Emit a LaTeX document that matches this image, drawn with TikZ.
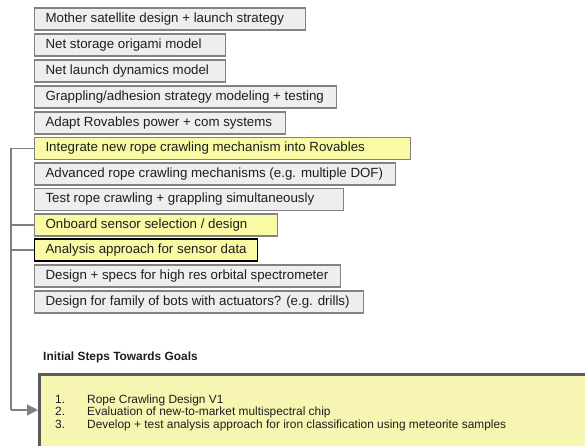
\documentclass[tikz,border=0pt]{standalone}
\usepackage{fontspec}
\setmainfont{Liberation Sans}
\usetikzlibrary{arrows.meta}
\definecolor{boxgray}{RGB}{238,238,238}
\definecolor{boxline}{RGB}{130,130,130}
\definecolor{hiyellow}{RGB}{250,250,165}
\definecolor{goalyellow}{RGB}{246,246,178}
\definecolor{goalline}{RGB}{90,90,90}
\definecolor{connline}{RGB}{128,128,128}
\definecolor{txt}{RGB}{30,30,30}
\begin{document}
\begin{tikzpicture}[x=1pt,y=-1pt,
  taskbox/.style={draw=boxline, fill=boxgray, line width=1.1pt, anchor=west,
    minimum height=22pt, inner xsep=0pt, inner ysep=0pt, text height=9.6pt, text depth=2.8pt,
    font=\fontsize{13.3}{15}\selectfont, text=txt},
  hibox/.style={taskbox, fill=hiyellow},
  conn/.style={draw=connline, line width=1.2pt},
  ]
\useasboundingbox (0,0) rectangle (585,445);
\clip (0,0) rectangle (585,445);
\newcommand{\taskrow}[5]{%
  \pgfmathsetmacro{\boxw}{#3-34}%
  \node[#1] (#2) at (34,#4) {\makebox[\boxw pt][l]{\hspace{11pt}#5}};}
\taskrow{taskbox}{b1}{305}{19}{Mother satellite design + launch strategy}
\taskrow{taskbox}{b2}{225}{45}{Net storage origami model}
\taskrow{taskbox}{b3}{225}{71}{Net launch dynamics model}
\taskrow{taskbox}{b4}{336}{97}{Grappling/adhesion strategy modeling + testing}
\taskrow{taskbox}{b5}{285}{123}{Adapt Rovables power + com systems}
\taskrow{hibox}{b6}{410}{148.5}{Integrate new rope crawling mechanism into Rovables}
\taskrow{taskbox}{b7}{395}{174}{Advanced rope crawling mechanisms (e.g. multiple DOF)}
\taskrow{taskbox}{b8}{343}{199.5}{Test rope crawling + grappling simultaneously}
\taskrow{hibox}{b9}{277}{225}{Onboard sensor selection / design}
\taskrow{hibox,draw=black}{b10}{257}{250}{Analysis approach for sensor data}
\taskrow{taskbox}{b11}{340}{276}{Design + specs for high res orbital spectrometer}
\taskrow{taskbox}{b12}{363}{302}{Design for family of bots with actuators? (e.g. drills)}

\node[anchor=base west, font=\fontsize{11.9}{14}\bfseries, text=txt, inner sep=0pt] (title) at (43,360) {Initial Steps Towards Goals};

\node[draw=goalline, fill=goalyellow, line width=2.6pt, anchor=north west,
  minimum width=580pt, minimum height=90pt, inner sep=0pt] (goal) at (38,373) {};
\node[anchor=north west, inner sep=0pt, font=\fontsize{11.9}{10.9}\selectfont, text=txt, align=left] (items) at (55,395)
  {\makebox[32pt][l]{1.}Rope Crawling Design V1\\
   \makebox[32pt][l]{2.}Evaluation of new-to-market multispectral chip\\
   \makebox[32pt][l]{3.}Develop + test analysis approach for iron classification using meteorite samples};

\coordinate (spinetop) at (11,148.5);
\coordinate (corner) at (11,410);
\draw[conn] (b6.west) -- (spinetop) -- (corner);
\draw[conn] (b9.west) -- (b9.west -| spinetop);
\draw[conn] (b10.west) -- (b10.west -| spinetop);
\draw[conn, -{Triangle[length=11pt,width=11pt]}] (corner) -- (corner -| goal.west);
\end{tikzpicture}
\end{document}
